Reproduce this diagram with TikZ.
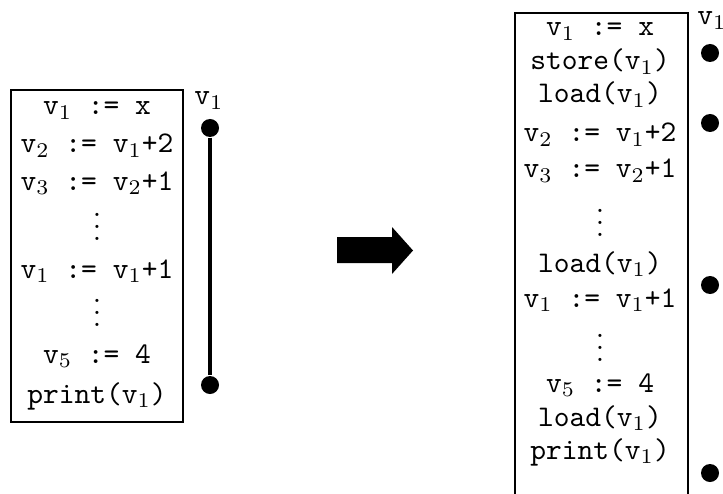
\documentclass[tikz,border=0pt]{standalone}
\newcommand{\vs}[1]{v$_{#1}$}
\newcommand{\myvdots}{\vbox{\baselineskip4pt\lineskiplimit0pt\hbox{.}\hbox{.}\hbox{.}}}
\begin{document}
\begin{tikzpicture}[x={(0.3333pt,0)},y={(0,-0.3333pt)},
  code/.style={font=\ttfamily, inner sep=0pt, anchor=base},
  vd/.style={inner sep=0pt, anchor=south},
  dot/.style={circle, fill=black, inner sep=0pt, minimum size=6pt},
  boxline/.style={line width=0.5pt}]
\useasboundingbox (0,0) rectangle (723,493);
% left box
\draw[boxline] (11,90) rectangle (183,422);
\node[code] (a1) at (97,115) {\vs1 := x};
\node[code] (a2) at (97,153) {\vs2 := \vs1+2};
\node[code] (a3) at (97,190) {\vs3 := \vs2+1};
\node[vd]   (a4) at (97,241) {\myvdots};
\node[code] (a5) at (97,278) {\vs1 := \vs1+1};
\node[vd]   (a6) at (97,327) {\myvdots};
\node[code] (a7) at (97,363) {\vs5 := 4};
\node[code] (a8) at (97,403) {print(\vs1)};
\node[code] (lv) at (209,105) {\vs1};
\node[dot] (ld1) at (210,128) {};
\node[dot] (ld2) at (210,385) {};
\draw[line width=1.6pt] (ld1) -- (ld2);
% arrow
\fill (337,237) -- (392,237) -- (392,227) -- (413,250.5) -- (392,274) -- (392,263) -- (337,263) -- cycle;
% right box
\draw[boxline] (515,520) -- (515,13) -- (688,13) -- (688,520);
\node[code] (b1) at (600,36) {\vs1 := x};
\node[code] (b2) at (600,70) {store(\vs1)};
\node[code] (b3) at (600,103) {load(\vs1)};
\node[code] (b4) at (600,142) {\vs2 := \vs1+2};
\node[code] (b5) at (600,178) {\vs3 := \vs2+1};
\node[vd]   (b6) at (600,237) {\myvdots};
\node[code] (b7) at (600,272) {load(\vs1)};
\node[code] (b8) at (600,307) {\vs1 := \vs1+1};
\node[vd]   (b9) at (600,362) {\myvdots};
\node[code] (b10) at (600,392) {\vs5 := 4};
\node[code] (b11) at (600,426) {load(\vs1)};
\node[code] (b12) at (600,459) {print(\vs1)};
\node[code] (rv) at (712,25) {\vs1};
\node[dot] (rd1) at (710,53) {};
\node[dot] (rd2) at (710,123) {};
\node[dot] (rd3) at (710,285) {};
\node[dot] (rd4) at (710,473) {};
\end{tikzpicture}
\end{document}
